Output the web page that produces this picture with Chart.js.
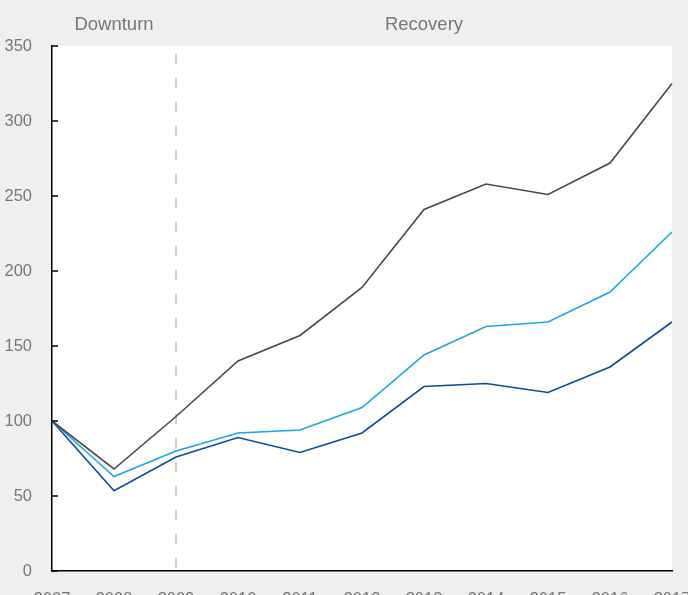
<!DOCTYPE html>
<html>
<head>
<meta charset="utf-8">
<script src="https://cdn.jsdelivr.net/npm/chart.js@4/dist/chart.umd.min.js"></script>
<style>
  html, body { margin: 0; padding: 0; background: #efefef; overflow: hidden; }
  #wrap { width: 688px; height: 595px; }
</style>
</head>
<body>
<div id="wrap"><canvas id="chart" width="688" height="595"></canvas></div>
<script>
var years = ['2007', '2008', '2009', '2010', '2011', '2012', '2013', '2014', '2015', '2016', '2017'];
var totalValues = [100, 68, 103, 140, 157, 189, 241, 258, 251, 272, 325];
var midValues = [100, 63, 80, 92, 94, 109, 144, 163, 166, 186, 226];
var lowValues = [100, 53.5, 76, 89, 79, 92, 123, 125, 119, 136, 166];
var yTicks = [0, 50, 100, 150, 200, 250, 300, 350];
var phases = [
    { label: 'Downturn', from: '2007', to: '2009' },
    { label: 'Recovery', from: '2009', to: '2017' }
];

var textColor = '#777777';
var fontFamily = '"Helvetica Neue", Helvetica, "Liberation Sans", Arial, sans-serif';

// fond gris + zone blanche, ligne pointillée, libellés des phases, petits traits
var decor = {
    id: 'decor',
    beforeDraw: function(chart) {
        var c = chart.ctx, a = chart.chartArea;
        c.save();
        c.fillStyle = '#efefef';
        c.fillRect(0, 0, chart.width, chart.height);
        c.fillStyle = '#ffffff';
        c.fillRect(a.left, a.top, a.right - a.left, a.bottom - a.top);
        c.restore();
    },
    beforeDatasetsDraw: function(chart) {
        var c = chart.ctx, a = chart.chartArea;
        var x = chart.scales.x;
        var xs = x.getPixelForValue(years.indexOf('2009'));
        c.save();
        c.strokeStyle = '#cccccc';
        c.lineWidth = 2;
        c.setLineDash([10, 14]);
        c.beginPath();
        c.moveTo(xs, a.top + 8);
        c.lineTo(xs, a.bottom);
        c.stroke();
        c.restore();
    },
    afterDraw: function(chart) {
        var c = chart.ctx, a = chart.chartArea;
        var x = chart.scales.x, y = chart.scales.y;
        c.save();
        c.fillStyle = textColor;
        c.font = '18.5px ' + fontFamily;
        c.textAlign = 'center';
        c.textBaseline = 'middle';
        phases.forEach(function(p) {
            var x0 = x.getPixelForValue(years.indexOf(p.from));
            var x1 = x.getPixelForValue(years.indexOf(p.to));
            c.fillText(p.label, (x0 + x1) / 2, 25);
        });
        c.strokeStyle = '#000';
        c.lineWidth = 1.5;
        yTicks.forEach(function(v) {
            var py = y.getPixelForValue(v);
            c.beginPath();
            c.moveTo(a.left, py);
            c.lineTo(a.left + 6, py);
            c.stroke();
        });
        c.restore();
    }
};

function lineSet(label, data, color) {
    return {
        label: label,
        data: data,
        borderColor: color,
        backgroundColor: color,
        borderWidth: 1.6,
        pointRadius: 0,
        tension: 0,
        fill: false
    };
}

var ctx = document.getElementById('chart');
new Chart(ctx, {
    type: 'line',
    data: {
        labels: years,
        datasets: [
            lineSet('Total', totalValues, '#4a4a4a'),
            lineSet('Mid', midValues, '#1ba7e6'),
            lineSet('Low', lowValues, '#0b4e98')
        ]
    },
    options: {
        responsive: false,
        animation: false,
        layout: { padding: { left: 0, right: 16, top: 46, bottom: 0 } },
        plugins: {
            legend: { display: false },
            tooltip: { enabled: false }
        },
        scales: {
            x: {
                offset: false,
                grid: { display: false, drawTicks: false },
                border: { display: true, color: '#000', width: 1.5 },
                ticks: {
                    color: textColor,
                    font: { family: fontFamily, size: 16.5 },
                    padding: 19,
                    maxRotation: 0,
                    autoSkip: false
                },
                afterFit: function(s) {
                    s.height = 24;
                    s.paddingLeft = 0;
                    s.paddingRight = 0;
                }
            },
            y: {
                min: 0,
                max: 350,
                grid: { display: false, drawTicks: false },
                border: { display: true, color: '#000', width: 1.5 },
                afterBuildTicks: function(s) {
                    s.ticks = yTicks.map(function(v) { return { value: v }; });
                },
                ticks: {
                    color: textColor,
                    font: { family: fontFamily, size: 16.5 },
                    padding: 20
                },
                afterFit: function(s) {
                    s.width = 52;
                    s.paddingTop = 0;
                    s.paddingBottom = 0;
                }
            }
        }
    },
    plugins: [decor]
});
</script>
</body>
</html>
